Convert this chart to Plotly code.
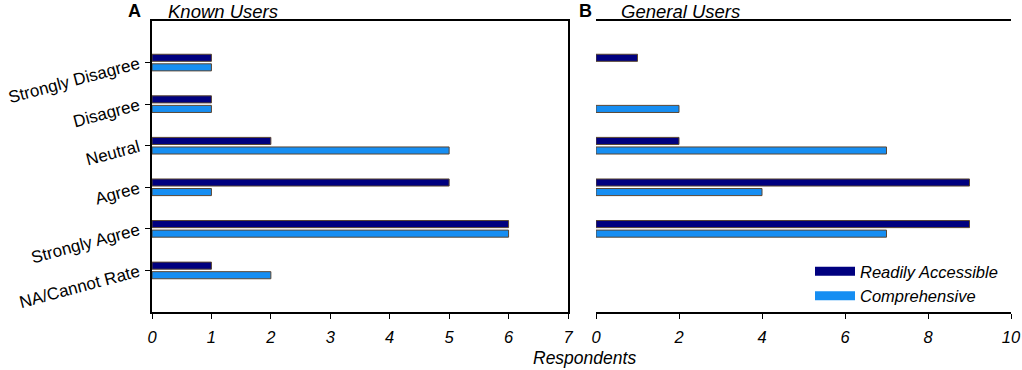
import plotly.graph_objects as go

categories = ["Strongly Disagree", "Disagree", "Neutral", "Agree", "Strongly Agree", "NA/Cannot Rate"]
known_readily = [1, 1, 2, 5, 6, 1]
known_compre = [1, 1, 5, 1, 6, 2]
general_readily = [1, 0, 2, 9, 9, 0]
general_compre = [0, 2, 7, 4, 7, 0]
series_names = ["Readily Accessible", "Comprehensive"]
xticks_a = [0, 1, 2, 3, 4, 5, 6, 7]
xticks_b = [0, 2, 4, 6, 8, 10]

DARK = "#00007F"
LIGHT = "#168EF2"
EDGE = "#5a4632"
FONT = "Liberation Sans, Arial, sans-serif"
W, H = 1022, 370

fig = go.Figure()

def add_panel(xa, ya, readily, compre):
    # first trace sits lower within each horizontal group
    for vals, name, col in [(compre, series_names[1], LIGHT), (readily, series_names[0], DARK)]:
        fig.add_trace(go.Bar(y=categories, x=vals, orientation="h", name=name,
                             marker=dict(color=col, line=dict(color=EDGE,
                                         width=[1 if v else 0 for v in vals])),
                             xaxis=xa, yaxis=ya, showlegend=False))

add_panel("x", "y", known_readily, known_compre)
add_panel("x2", "y2", general_readily, general_compre)

# legend entries
for name, col in [(series_names[0], DARK), (series_names[1], LIGHT)]:
    fig.add_trace(go.Scatter(x=[None], y=[None], mode="lines", name=name,
                             line=dict(color=col, width=9), xaxis="x2", yaxis="y2"))

ydom = [1 - 312 / H, 1 - 21 / H]
cat_order = categories[::-1]
common_y = dict(type="category", categoryorder="array", categoryarray=cat_order,
                range=[-1, 6], showline=True, mirror=True, linecolor="black", linewidth=2,
                ticks="outside", ticklen=5, tickcolor="black", showgrid=False, zeroline=False,
                automargin=False, domain=ydom, ticklabelstandoff=3)
common_x = dict(showline=True, mirror=True, linecolor="black", linewidth=2,
                ticks="outside", ticklen=5, tickcolor="black", showgrid=False, zeroline=False,
                automargin=False, ticklabelstandoff=4,
                tickfont=dict(family=FONT, size=16.5, color="black", style="italic"))

fig.update_layout(
    width=W, height=H,
    margin=dict(l=0, r=0, t=0, b=0),
    paper_bgcolor="white", plot_bgcolor="white",
    barmode="group", bargap=0.54, bargroupgap=0.26,
    font=dict(family=FONT, color="black"),
    xaxis=dict(common_x, domain=[152 / W, 568 / W], range=[0, 7], tickvals=xticks_a),
    yaxis=dict(common_y, tickangle=-15, tickfont=dict(family=FONT, size=17, color="black")),
    xaxis2=dict(common_x, domain=[596 / W, 1011 / W], range=[0, 10], tickvals=xticks_b),
    yaxis2=dict(common_y, showticklabels=False),
    legend=dict(x=810 / W, y=1 - 254 / H, xanchor="left", yanchor="top", bgcolor="rgba(0,0,0,0)",
                font=dict(family=FONT, size=16.5, style="italic"), tracegroupgap=0,
                itemwidth=40),
    showlegend=True,
)

annos = [
    dict(text="<b>A</b>", x=126 / W, y=1 - 11 / H, size=18, style="normal"),
    dict(text="Known Users", x=166 / W, y=1 - 11 / H, size=18.5, style="italic"),
    dict(text="<b>B</b>", x=577 / W, y=1 - 11 / H, size=18, style="normal"),
    dict(text="General Users", x=619 / W, y=1 - 11 / H, size=18.5, style="italic"),
]
for a in annos:
    fig.add_annotation(text=a["text"], x=a["x"], y=a["y"], xref="paper", yref="paper",
                       xanchor="left", yanchor="middle", showarrow=False,
                       font=dict(family=FONT, size=a["size"], color="black", style=a["style"]))
fig.add_annotation(text="Respondents", x=584 / W, y=1 - 358 / H, xref="paper", yref="paper",
                   xanchor="center", yanchor="middle", showarrow=False,
                   font=dict(family=FONT, size=17.5, color="black", style="italic"))

fig.write_html("out.html", config={"displayModeBar": False},
               post_script="document.body.style.margin='0';")
